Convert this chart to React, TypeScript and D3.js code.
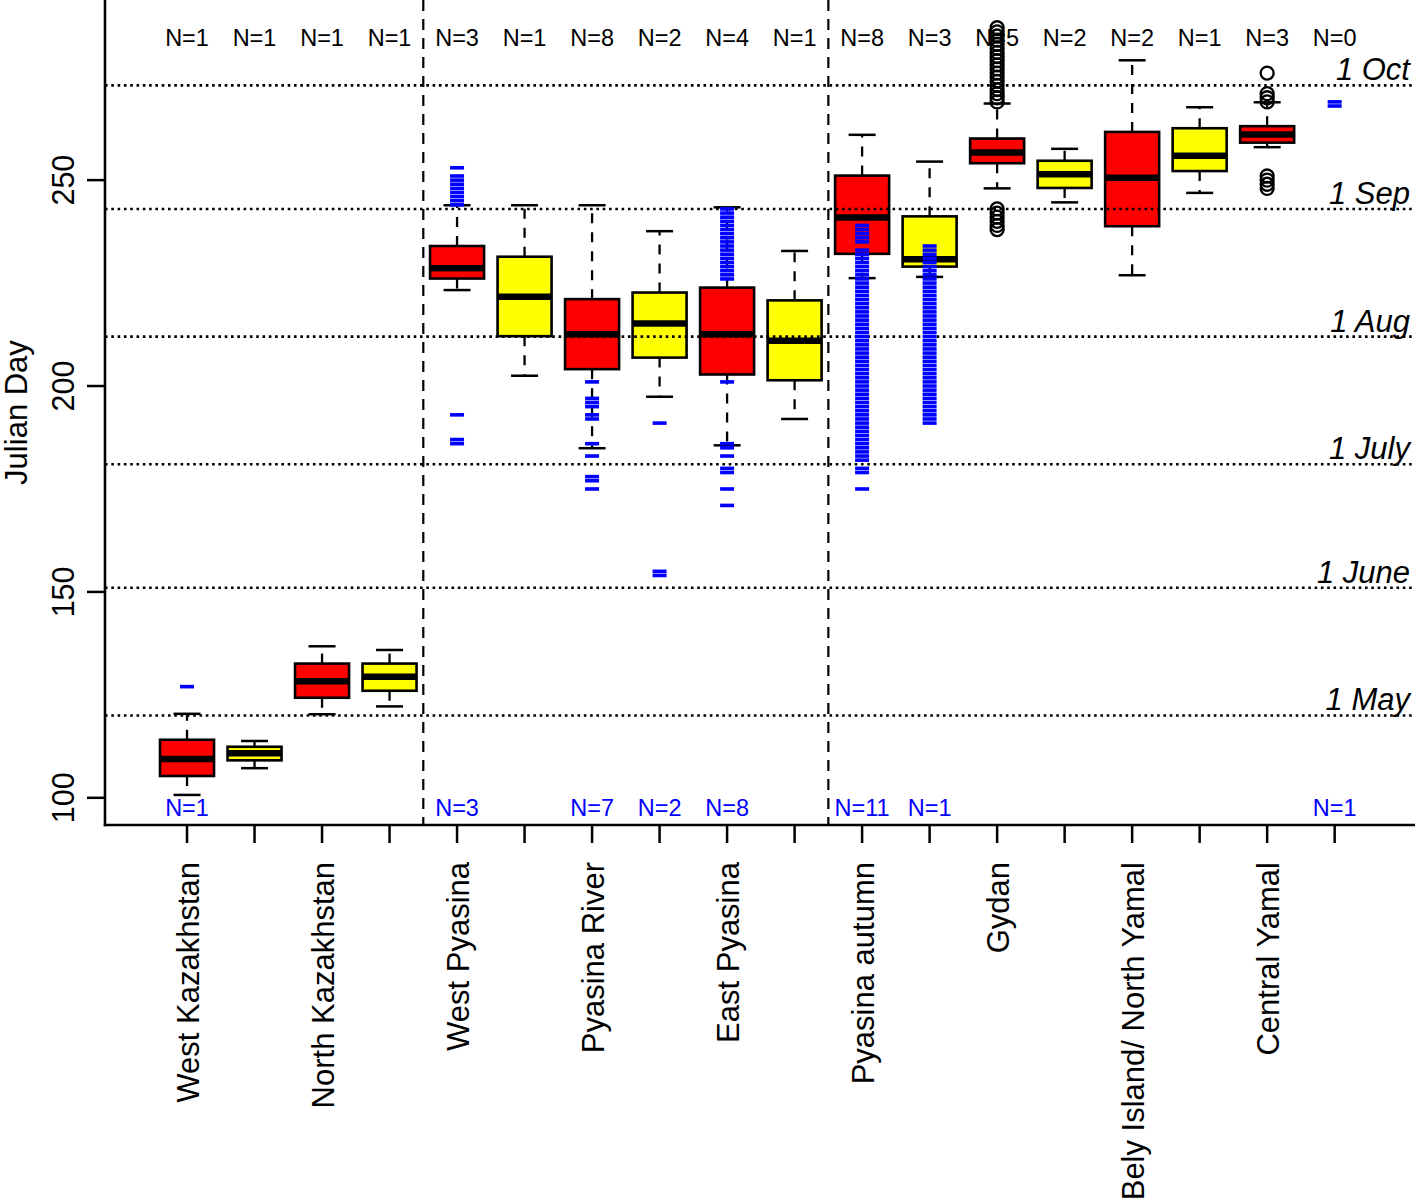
import React from 'react';
import * as d3 from 'd3';

// group labels, one slot per box (labels sit on the red box of each pair)
const groupLabels = [
  'West Kazakhstan', '', 'North Kazakhstan', '', 'West Pyasina', '', 'Pyasina River', '',
  'East Pyasina', '', 'Pyasina autumn', '', 'Gydan', '', 'Bely Island/ North Yamal', '',
  'Central Yamal', '',
];

const boxFills = [
  'red', 'yellow', 'red', 'yellow', 'red', 'yellow', 'red', 'yellow', 'red',
  'yellow', 'red', 'yellow', 'red', 'yellow', 'red', 'yellow', 'red', null,
];

// box stats (Julian day); last slot has no box (N=0)
const whiskerLow = [100.7, 107.2, 120.3, 122.2, 223.3, 202.5, 184.9, 197.4, 185.6, 192, 226.2, 226.5, 248, 244.6, 226.9, 246.9, 258, null];
const q1 = [105.3, 109.1, 124.3, 126, 226.1, 212.1, 204.1, 206.9, 202.8, 201.4, 232.1, 229, 254.1, 248.1, 238.8, 252.2, 259.1, null];
const medians = [109.4, 110.8, 128.3, 129.4, 228.6, 221.7, 212.6, 215.2, 212.6, 211, 240.9, 230.8, 256.7, 251.4, 250.6, 255.9, 261.1, null];
const q3 = [114.1, 112.4, 132.6, 132.6, 234, 231.4, 221.1, 222.7, 223.9, 220.8, 251.1, 241.2, 260.1, 254.7, 261.7, 262.6, 263.1, null];
const whiskerHigh = [120.4, 113.8, 136.8, 135.9, 243.9, 243.9, 243.9, 237.6, 243.4, 232.8, 261, 254.5, 268.6, 257.6, 279.1, 267.7, 268.9, null];

// black open-circle outliers
const outliers = [
  [], [], [], [], [], [], [], [], [], [], [], [],
  [287, 286, 285, 284, 283, 282, 281, 280, 279, 278, 277, 276, 275, 274, 273, 272, 271, 270, 269,
    243, 242, 241, 240, 239, 238],
  [], [], [],
  [276, 271, 270, 269, 251, 250, 249, 248],
  [],
];

// blue dash points
const bluePoints = [
  [127],
  [], [], [],
  [253, 251, 250, 249, 248, 247, 246, 245, 244, 193, 187, 186],
  [],
  [201, 197, 196, 195, 193, 192, 186, 183, 178, 177, 175],
  [191, 155, 154],
  [243, 242, 241, 240, 239, 238, 237, 236, 235, 234, 233, 232, 231, 230, 229, 228, 227, 226,
    201, 186, 185, 183, 180, 179, 175, 171],
  [],
  [239, 238, 237, 236, 235, 233, 232, 231, 230, 229, 228, 227, 226, 225, 224, 223, 222, 221, 220,
    219, 218, 217, 216, 215, 214, 213, 212, 211, 210, 209, 208, 207, 206, 205, 204, 203, 202, 201,
    200, 199, 198, 197, 196, 195, 194, 193, 192, 191, 190, 189, 188, 187, 186, 185, 184, 183, 182,
    180, 179, 175],
  [234, 233, 232, 231, 230, 229, 228, 227, 226, 225, 224, 223, 222, 221, 220, 219, 218, 217, 216,
    215, 214, 213, 212, 211, 210, 209, 208, 207, 206, 205, 204, 203, 202, 201, 200, 199, 198, 197,
    196, 195, 194, 193, 192, 191],
  [], [], [], [], [],
  [269, 268],
];

const topN = [1, 1, 1, 1, 3, 1, 8, 2, 4, 1, 8, 3, 5, 2, 2, 1, 3, 0];
const bottomN = [1, null, null, null, 3, null, 7, 2, 8, null, 11, 1, null, null, null, null, null, 1];

const dateLines = [120, 151, 181, 212, 243, 273];
const dateLabels = ['1 May', '1 June', '1 July', '1 Aug', '1 Sep', '1 Oct'];
const yTicks = [100, 150, 200, 250];
const separators = [4.5, 10.5];

const FONT = '"Liberation Sans", Arial, Helvetica, sans-serif';

export default function App() {
  const left = 105, right = 1415, top = 0, bottom = 825;
  const y = d3.scaleLinear().domain([93.4, 293.74]).range([bottom, top]);
  const x = d3.scaleLinear().domain([-0.215, 19.19]).range([left, right]);
  const unit = x(1) - x(0);
  const bw = unit * 0.8;
  const sw = bw / 2;
  const pos = groupLabels.map((_, i) => i + 1);

  return (
    <svg width={1418} height={1203} style={{ position: 'absolute', left: 0, top: 0, background: '#fff' }}
      fontFamily={FONT}>
      {/* N labels */}
      {topN.map((n, i) => (
        <text key={'tn' + i} x={x(pos[i])} y={46} fontSize={23.5} textAnchor="middle" fill="#000">{`N=${n}`}</text>
      ))}
      {bottomN.map((n, i) => n == null ? null : (
        <text key={'bn' + i} x={x(pos[i])} y={816} fontSize={23.5} textAnchor="middle" fill="#0000ff">{`N=${n}`}</text>
      ))}

      {/* boxes */}
      {boxFills.map((fill, i) => {
        if (!fill) return null;
        const cx = x(pos[i]);
        return (
          <g key={'b' + i}>
            <line x1={cx} x2={cx} y1={y(q3[i])} y2={y(whiskerHigh[i])} stroke="#000" strokeWidth={2.3} strokeDasharray="10,9" />
            <line x1={cx} x2={cx} y1={y(q1[i])} y2={y(whiskerLow[i])} stroke="#000" strokeWidth={2.3} strokeDasharray="10,9" />
            <line x1={cx - sw / 2} x2={cx + sw / 2} y1={y(whiskerHigh[i])} y2={y(whiskerHigh[i])} stroke="#000" strokeWidth={2.5} />
            <line x1={cx - sw / 2} x2={cx + sw / 2} y1={y(whiskerLow[i])} y2={y(whiskerLow[i])} stroke="#000" strokeWidth={2.5} />
            <rect x={cx - bw / 2} y={y(q3[i])} width={bw} height={y(q1[i]) - y(q3[i])}
              fill={fill === 'red' ? '#ff0000' : '#ffff00'} stroke="#000" strokeWidth={2.6} />
            <line x1={cx - bw / 2} x2={cx + bw / 2} y1={y(medians[i])} y2={y(medians[i])} stroke="#000" strokeWidth={6.5} />
          </g>
        );
      })}

      {/* outliers */}
      {outliers.map((vals, i) => vals.map((v, j) => (
        <circle key={`o${i}-${j}`} cx={x(pos[i])} cy={y(v)} r={6.5} fill="none" stroke="#000" strokeWidth={2.3} />
      )))}

      {/* date reference lines */}
      {dateLines.map((d, i) => (
        <g key={'dl' + i}>
          <line x1={left} x2={right} y1={y(d)} y2={y(d)} stroke="#000" strokeWidth={2.6} strokeDasharray="2.6,3.7" />
          <text x={1410} y={y(d) - 5} fontSize={31} fontStyle="italic" textAnchor="end" fill="#000">{dateLabels[i]}</text>
        </g>
      ))}

      {/* region separators */}
      {separators.map((s, i) => (
        <line key={'s' + i} x1={x(s)} x2={x(s)} y1={top} y2={bottom} stroke="#000" strokeWidth={2.2} strokeDasharray="11,8" />
      ))}

      {/* blue dashes */}
      {bluePoints.map((vals, i) => vals.map((v, j) => (
        <rect key={`p${i}-${j}`} x={x(pos[i]) - 7} y={y(v) - 1.8} width={14} height={3.6} fill="#0000ff" />
      )))}

      {/* axes */}
      <line x1={left} x2={left} y1={top} y2={bottom + 1.2} stroke="#000" strokeWidth={2.6} />
      <line x1={left - 1.2} x2={right} y1={bottom} y2={bottom} stroke="#000" strokeWidth={2.6} />
      {yTicks.map(t => (
        <g key={'yt' + t}>
          <line x1={left - 18} x2={left} y1={y(t)} y2={y(t)} stroke="#000" strokeWidth={2.5} />
          <text transform={`translate(74,${y(t)}) rotate(-90)`} fontSize={30.5} textAnchor="middle" fill="#000">{t}</text>
        </g>
      ))}
      {pos.map((p, i) => (
        <g key={'xt' + i}>
          <line x1={x(p)} x2={x(p)} y1={bottom} y2={bottom + 18} stroke="#000" strokeWidth={2.5} />
          {groupLabels[i] && (
            <text transform={`translate(${x(p) + 12},862) rotate(-90)`} fontSize={31} textAnchor="end" fill="#000">{groupLabels[i]}</text>
          )}
        </g>
      ))}
      <text transform={`translate(27,${(top + bottom) / 2}) rotate(-90)`} fontSize={31} textAnchor="middle" fill="#000">Julian Day</text>
    </svg>
  );
}
